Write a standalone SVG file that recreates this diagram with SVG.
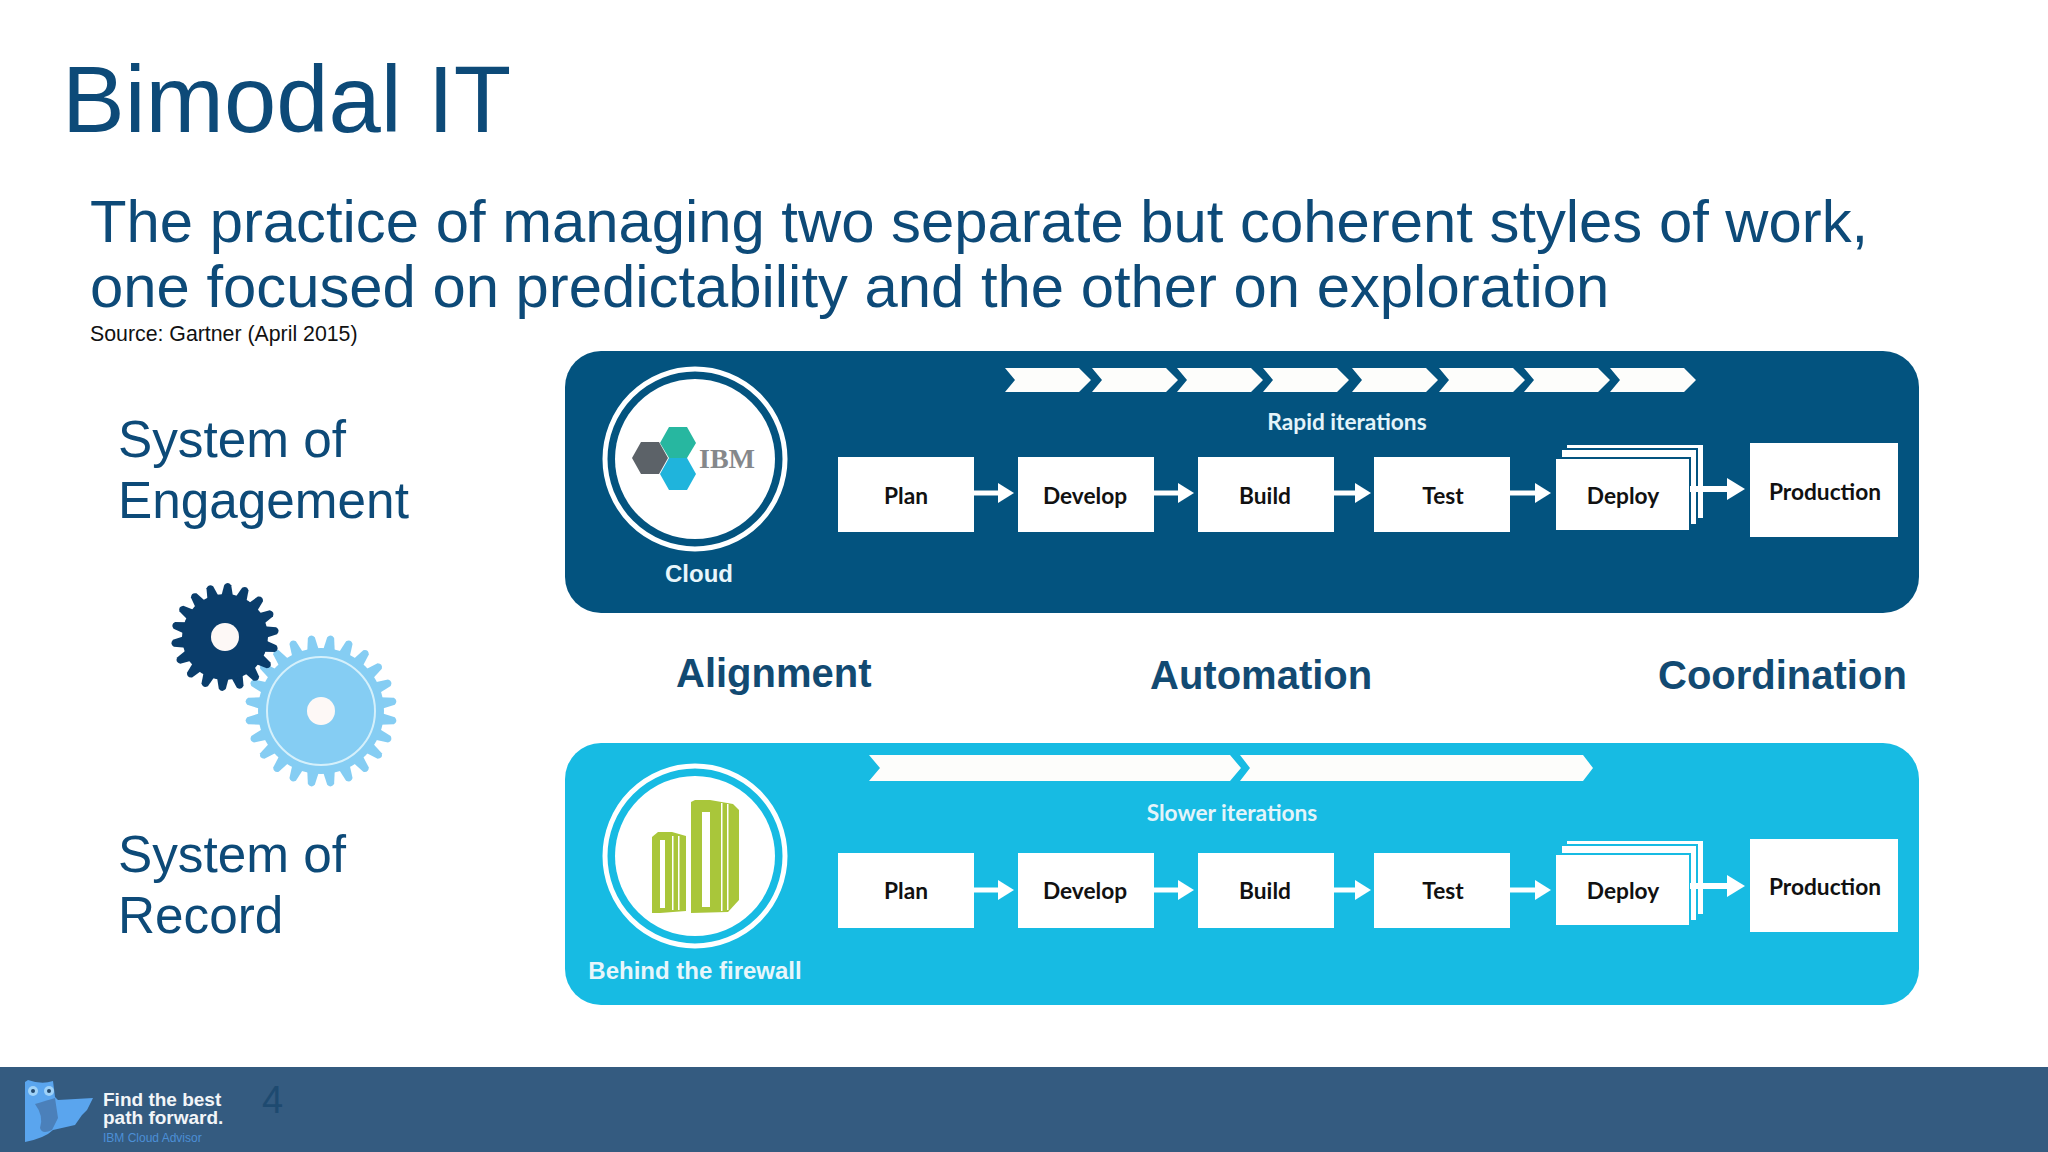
<svg xmlns="http://www.w3.org/2000/svg" width="2048" height="1152" viewBox="0 0 2048 1152">
<style>
text{font-family:"Liberation Sans",Arial,sans-serif}
.h{fill:#0d4a78}
.body{font-size:59.8px}
.sys{font-size:51.3px}
.box{fill:#fff}
.lbl{font-family:Lato,"Open Sans",sans-serif;font-weight:700;font-size:22.700px;fill:#111;text-anchor:middle}
.cap{font-family:Lato,"Open Sans",sans-serif;font-weight:700;font-size:22.700px;fill:#e4f4fa;text-anchor:middle}
.site{font-weight:700;font-size:24px;fill:#e8f6fb;text-anchor:middle}
.pillar{font-weight:700;font-size:40px;fill:#124a72}
.arr{stroke:#fff;stroke-width:5;fill:none;marker-end:url(#ah)}
.arrb{stroke:#fff;stroke-width:6;fill:none;marker-end:url(#ahb)}
.chev{fill:#fdfdfb}
</style>
<defs>
<marker id="ah" markerUnits="userSpaceOnUse" markerWidth="20" markerHeight="24" refX="3" refY="12" orient="auto"><path d="M3,2 L19,12 L3,22 Z" fill="#fff"/></marker>
<marker id="ahb" markerUnits="userSpaceOnUse" markerWidth="22" markerHeight="28" refX="3" refY="14" orient="auto"><path d="M3,3 L21,14 L3,25 Z" fill="#fff"/></marker>
<path id="td" d="M-6,-40 L-3.500,-52 Q0,-56 3.500,-52 L6,-40 Z" fill="#0a3d6b"/>
<path id="tl" d="M-6,-60 L-3.500,-74 Q0,-78 3.500,-74 L6,-60 Z" fill="#85cdf3"/>
<path id="ch" class="chev" d="M0,0 H74 L86,12 L74,24 H0 L10,12 Z"/>
</defs>
<rect width="2048" height="1152" fill="#fff"/>

<text id="title" class="h" x="62" y="132" font-size="94">Bimodal IT</text>
<g id="intro">
<text class="h body" x="90" y="242">The practice of managing two separate but coherent styles of work,</text>
<text class="h body" x="90" y="307">one focused on predictability and the other on exploration</text>
<text x="90" y="341" font-size="21.300" fill="#111">Source: Gartner (April 2015)</text>
</g>
<g id="sys-engagement"><text class="h sys" x="118" y="457">System of</text><text class="h sys" x="118" y="518">Engagement</text></g>
<g id="sys-record"><text class="h sys" x="118" y="872">System of</text><text class="h sys" x="118" y="933">Record</text></g>

<g id="gears">
<g id="gear-light">
<g transform="translate(321,711)">
<use href="#tl" transform="rotate(7.5)"/><use href="#tl" transform="rotate(22.5)"/><use href="#tl" transform="rotate(37.5)"/><use href="#tl" transform="rotate(52.5)"/><use href="#tl" transform="rotate(67.5)"/><use href="#tl" transform="rotate(82.5)"/><use href="#tl" transform="rotate(97.5)"/><use href="#tl" transform="rotate(112.5)"/><use href="#tl" transform="rotate(127.5)"/><use href="#tl" transform="rotate(142.5)"/><use href="#tl" transform="rotate(157.5)"/><use href="#tl" transform="rotate(172.5)"/><use href="#tl" transform="rotate(187.5)"/><use href="#tl" transform="rotate(202.5)"/><use href="#tl" transform="rotate(217.5)"/><use href="#tl" transform="rotate(232.5)"/><use href="#tl" transform="rotate(247.5)"/><use href="#tl" transform="rotate(262.5)"/><use href="#tl" transform="rotate(277.5)"/><use href="#tl" transform="rotate(292.5)"/><use href="#tl" transform="rotate(307.5)"/><use href="#tl" transform="rotate(322.5)"/><use href="#tl" transform="rotate(337.5)"/><use href="#tl" transform="rotate(352.5)"/>
<circle r="63" fill="#85cdf3"/><circle r="54" fill="none" stroke="#d5f0fb" stroke-width="2"/><circle r="14" fill="#fdf8f6"/>
</g>
</g>
<g id="gear-dark">
<g transform="translate(225,637)">
<use href="#td" transform="rotate(3)"/><use href="#td" transform="rotate(23)"/><use href="#td" transform="rotate(43)"/><use href="#td" transform="rotate(63)"/><use href="#td" transform="rotate(83)"/><use href="#td" transform="rotate(103)"/><use href="#td" transform="rotate(123)"/><use href="#td" transform="rotate(143)"/><use href="#td" transform="rotate(163)"/><use href="#td" transform="rotate(183)"/><use href="#td" transform="rotate(203)"/><use href="#td" transform="rotate(223)"/><use href="#td" transform="rotate(243)"/><use href="#td" transform="rotate(263)"/><use href="#td" transform="rotate(283)"/><use href="#td" transform="rotate(303)"/><use href="#td" transform="rotate(323)"/><use href="#td" transform="rotate(343)"/>
<circle r="43" fill="#0a3d6b"/><circle r="14" fill="#fdf8f6"/>
</g>
</g>
</g>

<g id="panel-cloud">
<rect x="565" y="351" width="1354" height="262" rx="36" fill="#03537f"/>
<circle cx="695" cy="459" r="90" fill="none" stroke="#fff" stroke-width="5"/>
<circle cx="695" cy="459" r="80" fill="#fff"/>
<path d="M641,442 H659 L668,458 L659,474 H641 L632,458 Z" fill="#5c6268"/>
<path d="M669,427 H687 L696,443 L687,458 H669 L660,443 Z" fill="#27b7a0"/>
<path d="M669,458 H687 L696,474 L687,490 H669 L660,474 Z" fill="#1fb4dc"/>
<text x="699" y="468" font-size="28" font-weight="700" fill="#85888b" style="font-family:'Liberation Serif',serif">IBM</text>
<text class="site" x="699" y="582">Cloud</text>
<text class="cap" x="1347" y="430">Rapid iterations</text>
<g id="chevrons-rapid">
<use href="#ch" x="1005" y="368"/><use href="#ch" x="1092" y="368"/><use href="#ch" x="1177" y="368"/><use href="#ch" x="1263" y="368"/><use href="#ch" x="1352" y="368"/><use href="#ch" x="1439" y="368"/><use href="#ch" x="1524" y="368"/><use href="#ch" x="1610" y="368"/>
</g>
</g>
<g id="c-plan"><rect class="box" x="838" y="457" width="136" height="75"/><text class="lbl" x="906" y="504">Plan</text></g>
<g id="c-develop"><rect class="box" x="1018" y="457" width="136" height="75"/><text class="lbl" x="1085" y="504">Develop</text></g>
<g id="c-build"><rect class="box" x="1198" y="457" width="136" height="75"/><text class="lbl" x="1265" y="504">Build</text></g>
<g id="c-test"><rect class="box" x="1374" y="457" width="136" height="75"/><text class="lbl" x="1443" y="504">Test</text></g>
<g id="c-deploy">
<rect class="box" x="1567" y="445" width="136" height="73"/>
<rect class="box" x="1561" y="449" width="136" height="76" stroke="#03537f" stroke-width="2"/>
<rect class="box" x="1555" y="458" width="135" height="73" stroke="#03537f" stroke-width="2"/>
<text class="lbl" x="1623" y="504">Deploy</text></g>
<g id="c-production"><rect class="box" x="1750" y="443" width="148" height="94"/><text class="lbl" x="1825" y="500">Production</text></g>

<g id="panel-firewall">
<rect x="565" y="743" width="1354" height="262" rx="36" fill="#17bbe3"/>
<circle cx="695" cy="856" r="90" fill="none" stroke="#fff" stroke-width="5"/>
<circle cx="695" cy="856" r="80" fill="#fff"/>
<path d="M652,837 L658,832 H672 L686,836 V911 L660,913 H652 Z" fill="#a9c63a"/>
<path d="M691,802 L695,800 H710 L733,804 L739,810 V900 L728,912 L691,913 Z" fill="#a9c63a"/>
<path d="M660,840 h5 v68 h-5 Z M702,812 h8 v95 h-8 Z M672,836 h1.500 v74 h-1.500 Z M678,836 h1.500 v74 h-1.500 Z M721,803 h1.500 v108 h-1.500 Z M727,804 h1.500 v106 h-1.500 Z" fill="#fff"/>
<text class="site" x="695" y="979">Behind the firewall</text>
<text class="cap" x="1232" y="821">Slower iterations</text>
<g id="chevrons-slow" class="chev">
<path d="M869,755 H1230 L1241,768 L1230,781 H869 L880,768 Z"/>
<path d="M1240,755 H1583 L1593,768 L1583,781 H1240 L1250,768 Z"/>
</g>
</g>
<g id="f-plan"><rect class="box" x="838" y="853" width="136" height="75"/><text class="lbl" x="906" y="899">Plan</text></g>
<g id="f-develop"><rect class="box" x="1018" y="853" width="136" height="75"/><text class="lbl" x="1085" y="899">Develop</text></g>
<g id="f-build"><rect class="box" x="1198" y="853" width="136" height="75"/><text class="lbl" x="1265" y="899">Build</text></g>
<g id="f-test"><rect class="box" x="1374" y="853" width="136" height="75"/><text class="lbl" x="1443" y="899">Test</text></g>
<g id="f-deploy">
<rect class="box" x="1567" y="841" width="136" height="73"/>
<rect class="box" x="1561" y="845" width="136" height="76" stroke="#17bbe3" stroke-width="2"/>
<rect class="box" x="1555" y="854" width="135" height="72" stroke="#17bbe3" stroke-width="2"/>
<text class="lbl" x="1623" y="899">Deploy</text></g>
<g id="f-production"><rect class="box" x="1750" y="839" width="148" height="93"/><text class="lbl" x="1825" y="895">Production</text></g>

<g id="connectors">
<line class="arr" x1="974" y1="493" x2="998" y2="493"/>
<line class="arr" x1="1154" y1="493" x2="1178" y2="493"/>
<line class="arr" x1="1334" y1="493" x2="1355" y2="493"/>
<line class="arr" x1="1510" y1="493" x2="1535" y2="493"/>
<line class="arrb" x1="1690" y1="489" x2="1727" y2="489"/>
<line class="arr" x1="974" y1="890" x2="998" y2="890"/>
<line class="arr" x1="1154" y1="890" x2="1178" y2="890"/>
<line class="arr" x1="1334" y1="890" x2="1355" y2="890"/>
<line class="arr" x1="1510" y1="890" x2="1535" y2="890"/>
<line class="arrb" x1="1690" y1="886" x2="1727" y2="886"/>
</g>

<g id="pillars">
<text class="pillar" x="676" y="687">Alignment</text>
<text class="pillar" x="1150" y="689">Automation</text>
<text class="pillar" x="1658" y="689">Coordination</text>
</g>

<g id="footer">
<rect y="1067" width="2048" height="85" fill="#345b80"/>
<path d="M25,1082 L28,1080 Q42,1085 53,1081 L55,1097 L58,1100 L93,1098 L87,1110 L82,1115 L75,1125 L53,1130 Q45,1138 25,1142 Z" fill="#5aa5ee"/>
<path d="M35,1104 Q48,1100 55,1098 L58,1118 L52,1130 Q42,1135 40,1128 Q44,1116 35,1104 Z" fill="#4b80ba"/>
<circle cx="33" cy="1091" r="5" fill="#9fd2f8"/><circle cx="49" cy="1091" r="5" fill="#9fd2f8"/><circle cx="33" cy="1091" r="2" fill="#244a70"/><circle cx="49" cy="1091" r="2" fill="#244a70"/>
<text x="103" y="1106" font-size="19" font-weight="700" fill="#f2f5f8">Find the best</text>
<text x="103" y="1124" font-size="19" font-weight="700" fill="#f2f5f8">path forward.</text>
<text x="103" y="1142" font-size="12" fill="#4c8fd6">IBM Cloud Advisor</text>
<text x="262" y="1113" font-size="38" fill="#1e4a70">4</text>
</g>
</svg>
